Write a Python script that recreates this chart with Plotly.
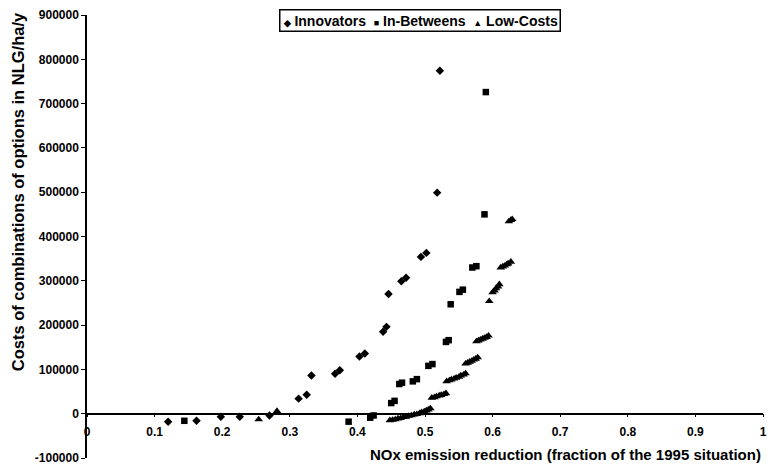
import plotly.graph_objects as go

# Innovators
inn_x = [0.120, 0.162, 0.198, 0.226, 0.270, 0.313, 0.325, 0.332, 0.367, 0.374,
         0.403, 0.411, 0.438, 0.443, 0.446, 0.465, 0.472, 0.494, 0.502, 0.518, 0.522]
inn_y = [-18000, -16000, -7000, -7000, -4000, 34000, 43000, 86000, 90000, 98000,
         129000, 136000, 185000, 196000, 270000, 299000, 307000, 354000, 363000, 499000, 774000]

# In-Betweens
ib_x = [0.144, 0.387, 0.419, 0.424, 0.450, 0.455, 0.462, 0.466, 0.482, 0.488,
        0.505, 0.511, 0.531, 0.535, 0.538, 0.551, 0.556, 0.570, 0.576, 0.588, 0.590]
ib_y = [-16000, -18000, -9000, -4000, 24000, 29000, 67000, 70000, 73000, 78000,
        108000, 112000, 162000, 166000, 247000, 275000, 280000, 330000, 333000, 450000, 726000]

# Low-Costs
lc_x = [0.254, 0.281,
        0.448, 0.452, 0.456, 0.460, 0.464, 0.468, 0.472, 0.476, 0.480, 0.484,
        0.488, 0.492, 0.495, 0.499, 0.502, 0.505, 0.508,
        0.510, 0.514, 0.517, 0.521, 0.524, 0.528, 0.531,
        0.532, 0.536, 0.539, 0.543, 0.546, 0.550, 0.553, 0.557, 0.560,
        0.560, 0.563, 0.566, 0.569, 0.572, 0.575, 0.578,
        0.576, 0.579, 0.582, 0.585, 0.588, 0.591, 0.594,
        0.595, 0.600, 0.603, 0.605, 0.608, 0.610,
        0.612, 0.615, 0.618, 0.621, 0.623, 0.627,
        0.624, 0.627, 0.629]
lc_y = [-13000, 6000,
        -15000, -14000, -13000, -11000, -10000, -8000, -7000, -5000, -4000, -2000,
        -1000, 1000, 3000, 5000, 7000, 9000, 12000,
        36000, 37000, 39000, 41000, 42000, 44000, 46000,
        73000, 75000, 77000, 79000, 81000, 83000, 86000, 88000, 91000,
        113000, 115000, 117000, 119000, 122000, 124000, 127000,
        163000, 165000, 167000, 169000, 171000, 173000, 176000,
        254000, 274000, 278000, 283000, 287000, 292000,
        330000, 332000, 334000, 337000, 339000, 343000,
        434000, 437000, 439000]

series_names = ["Innovators", "In-Betweens", "Low-Costs"]
legend_glyphs = ["\u25C6", "\u25A0", "\u25B2"]

x_ticks = [0, 0.1, 0.2, 0.3, 0.4, 0.5, 0.6, 0.7, 0.8, 0.9, 1]
x_tick_labels = ["0", "0.1", "0.2", "0.3", "0.4", "0.5", "0.6", "0.7", "0.8", "0.9", "1"]
y_ticks = [-100000, 0, 100000, 200000, 300000, 400000, 500000, 600000, 700000, 800000, 900000]
y_tick_labels = [str(v) for v in y_ticks]

FONT = "Liberation Sans, Arial, sans-serif"

fig = go.Figure()
fig.add_trace(go.Scatter(x=inn_x, y=inn_y, mode="markers", name=series_names[0],
                         marker=dict(symbol="diamond", size=6.5, color="black")))
fig.add_trace(go.Scatter(x=ib_x, y=ib_y, mode="markers", name=series_names[1],
                         marker=dict(symbol="square", size=6.5, color="black")))
fig.add_trace(go.Scatter(x=lc_x, y=lc_y, mode="markers", name=series_names[2],
                         marker=dict(symbol="triangle-up", size=7.5, color="black")))

legend_text = "  ".join(
    f"<span style='font-size:9px'>{g}</span> {n}" for g, n in zip(legend_glyphs, series_names)
)

fig.update_layout(
    width=772, height=470,
    margin=dict(l=87, r=5, t=15, b=9),
    paper_bgcolor="white", plot_bgcolor="white",
    font=dict(family=FONT, color="black", size=12),
    showlegend=False,
    xaxis=dict(range=[0, 1], tickvals=x_ticks, ticktext=x_tick_labels,
               anchor="free", position=0.1, showline=True, linecolor="black", linewidth=1.5,
               ticks="outside", ticklen=3, tickcolor="black", showgrid=False, zeroline=False,
               ticklabelstandoff=4,
               tickfont=dict(size=12, family=FONT, weight="bold")),
    yaxis=dict(range=[-100000, 900000], tickvals=y_ticks, ticktext=y_tick_labels,
               showline=True, linecolor="black", linewidth=1.5,
               ticks="outside", ticklen=4, tickcolor="black", showgrid=False, zeroline=False,
               tickfont=dict(size=12, family=FONT, weight="bold")),
    annotations=[
        dict(text=legend_text, xref="paper", yref="paper",
             x=(422 - 87) / 680, y=(461 - 21) / 446, xanchor="center", yanchor="middle",
             showarrow=False, bordercolor="black", borderwidth=1.5, borderpad=2,
             bgcolor="white", font=dict(size=14, family=FONT, weight="bold")),
        dict(text="NOx emission reduction (fraction of the 1995 situation)",
             xref="paper", yref="paper", x=1.0, y=(461 - 457) / 446, xanchor="right",
             yanchor="middle", showarrow=False,
             font=dict(size=15, family=FONT, weight="bold")),
        dict(text="Costs of combinations of options in NLG/ha/y",
             xref="paper", yref="paper", x=(17 - 87) / 680, y=(461 - 193) / 446,
             xanchor="center", yanchor="middle", textangle=-90, showarrow=False,
             font=dict(size=16.5, family=FONT, weight="bold")),
    ],
)

fig.write_html("out.html")
